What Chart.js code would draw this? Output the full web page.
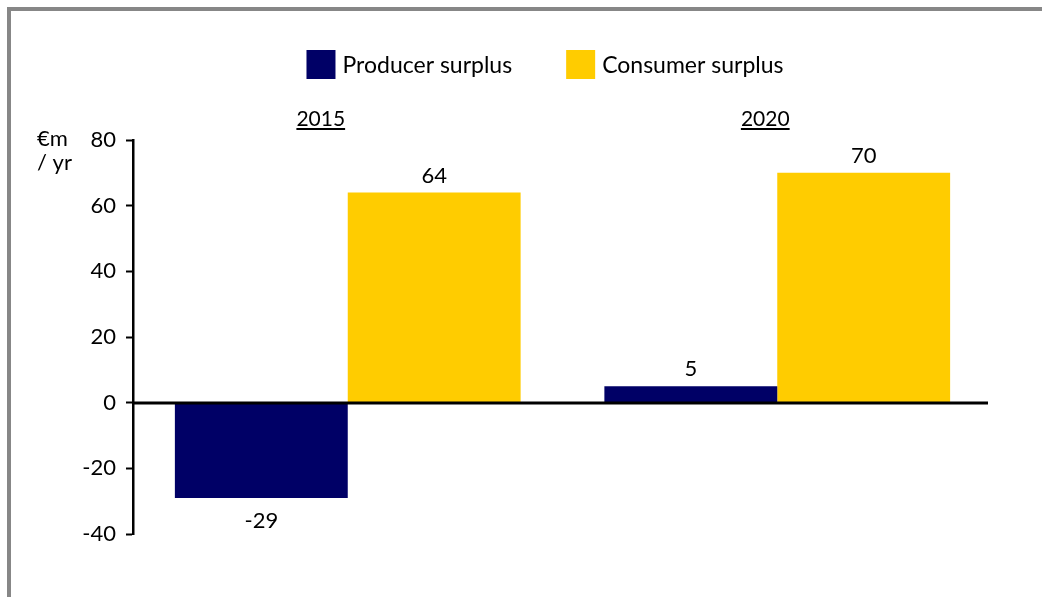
<!DOCTYPE html>
<html>
<head>
<meta charset="utf-8">
<script src="https://cdn.jsdelivr.net/npm/chart.js@4/dist/chart.umd.min.js"></script>
<style>
  html, body { margin: 0; padding: 0; background: #fff; }
  #wrap { position: relative; width: 1042px; height: 597px; overflow: hidden; }
  #frame { position: absolute; left: 7px; top: 7px; width: 1100px; height: 700px;
           border-left: 4px solid #878787; border-top: 4px solid #878787; box-sizing: border-box; }
  canvas { position: absolute; left: 0; top: 0; }
</style>
</head>
<body>
<div id="wrap">
  <div id="frame"></div>
  <canvas id="c" width="1042" height="597"></canvas>
</div>
<script>
// Surplus change by year (€m / yr)
const categories = ['2015', '2020'];
const producerSurplus = [-29, 5];
const consumerSurplus = [64, 70];
const seriesNames = ['Producer surplus', 'Consumer surplus'];
const seriesColors = ['#000066', '#FFCC00'];
const yMin = -40, yMax = 80, yStep = 20;
const unitLines = ['€m', '/ yr'];

const FONT = 'Lato, "Open Sans", sans-serif';

// Legend, underlined year headers, zero line, value labels and unit text
const decorations = {
  id: 'decorations',
  afterDatasetsDraw(chart) {
    const { ctx, chartArea, scales } = chart;
    ctx.save();
    ctx.fillStyle = '#000';

    // zero line
    const y0 = scales.y.getPixelForValue(0);
    ctx.fillRect(chartArea.left, Math.round(y0) - 1.5, 988 - chartArea.left, 3);

    // legend
    ctx.font = '23px ' + FONT;
    const box = 29, gapText = 7, gapItems = 54;
    const widths = seriesNames.map(n => ctx.measureText(n).width);
    const total = widths.reduce((a, w) => a + box + gapText + w, 0) + gapItems * (seriesNames.length - 1);
    let x = 545 - total / 2;
    const ly = 50;
    seriesNames.forEach((n, i) => {
      ctx.fillStyle = seriesColors[i];
      ctx.fillRect(x, ly, box, box);
      ctx.fillStyle = '#000';
      ctx.textAlign = 'left';
      ctx.textBaseline = 'middle';
      ctx.fillText(n, x + box + gapText, ly + box / 2 + 1);
      x += box + gapText + widths[i] + gapItems;
    });

    // year headers, underlined
    ctx.font = '21px ' + FONT;
    ctx.textAlign = 'center';
    ctx.textBaseline = 'alphabetic';
    const headerShift = [-27, -12];
    categories.forEach((c, i) => {
      const cx = scales.x.getPixelForValue(i) + headerShift[i];
      const by = 126;
      ctx.fillText(c, cx, by);
      const w = ctx.measureText(c).width;
      ctx.fillRect(cx - w / 2, by + 2, w, 2);
    });

    // value labels
    ctx.font = '22px ' + FONT;
    chart.data.datasets.forEach((ds, di) => {
      const meta = chart.getDatasetMeta(di);
      meta.data.forEach((bar, i) => {
        const v = ds.data[i];
        if (v >= 0) {
          ctx.textBaseline = 'bottom';
          ctx.fillText(String(v), bar.x, bar.y - 6);
        } else {
          ctx.textBaseline = 'top';
          ctx.fillText(String(v), bar.x, bar.y + 12);
        }
      });
    });

    // unit text
    ctx.font = '22px ' + FONT;
    ctx.textAlign = 'left';
    ctx.textBaseline = 'alphabetic';
    ctx.fillText(unitLines[0], 37, 146);
    ctx.fillText(unitLines[1], 37, 170);
    ctx.restore();
  }
};

new Chart(document.getElementById('c'), {
  type: 'bar',
  data: {
    labels: categories,
    datasets: [
      { label: seriesNames[0], data: producerSurplus, backgroundColor: seriesColors[0] },
      { label: seriesNames[1], data: consumerSurplus, backgroundColor: seriesColors[1] }
    ]
  },
  options: {
    responsive: false,
    animation: false,
    devicePixelRatio: 1,
    layout: { padding: { top: 140, bottom: 63, left: 0, right: 50 } },
    plugins: { legend: { display: false }, tooltip: { enabled: false } },
    datasets: { bar: { barPercentage: 1.0, categoryPercentage: 0.805 } },
    scales: {
      x: { display: false },
      y: {
        min: yMin, max: yMax,
        afterFit(scale) { scale.width = 133; },
        ticks: { stepSize: yStep, color: '#000', padding: 10, font: { family: FONT, size: 22 } },
        border: { display: true, color: '#000', width: 2.5 },
        grid: {
          drawOnChartArea: false,
          tickLength: 7,
          tickColor: '#000',
          tickWidth: 2
        }
      }
    }
  },
  plugins: [decorations]
});
</script>
</body>
</html>
